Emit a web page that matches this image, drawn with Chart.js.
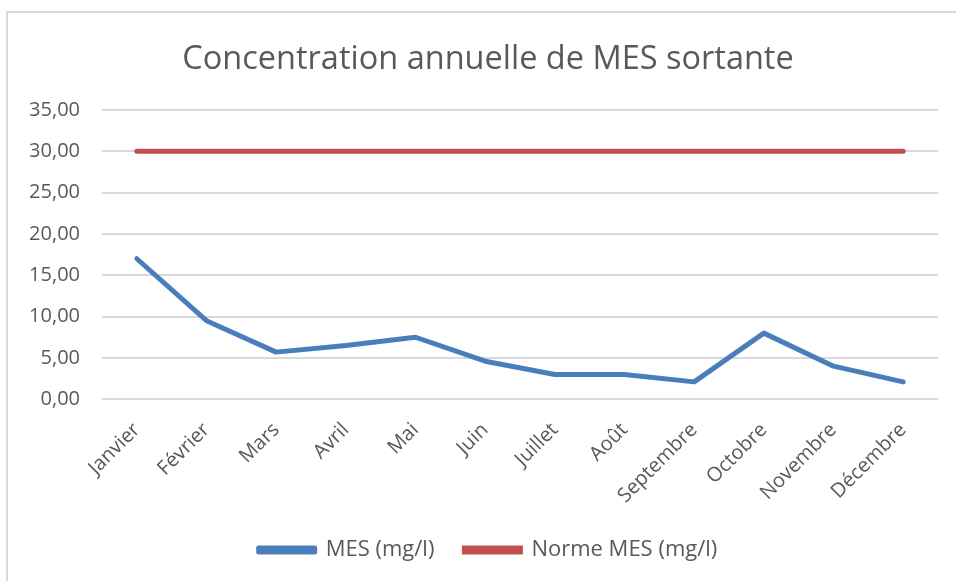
<!DOCTYPE html>
<html>
<head>
<meta charset="utf-8">
<script src="https://cdn.jsdelivr.net/npm/chart.js@4.4.1/dist/chart.umd.min.js"></script>
<style>
  html, body { margin: 0; padding: 0; background: #fff; }
  #wrap { position: relative; width: 956px; height: 581px; }
  #frame { position: absolute; left: 6px; top: 11px; right: 0; bottom: 0;
           border-left: 2px solid #d9d9d9; border-top: 2px solid #d9d9d9; }
  canvas { position: absolute; left: 0; top: 0; }
</style>
</head>
<body>
<div id="wrap">
  <div id="frame"></div>
  <canvas id="chart" width="956" height="581"></canvas>
</div>
<script>
const months = ["Janvier", "Février", "Mars", "Avril", "Mai", "Juin", "Juillet", "Août", "Septembre", "Octobre", "Novembre", "Décembre"];
const mesValues = [17.0, 9.5, 5.7, 6.5, 7.5, 4.6, 3.0, 3.0, 2.1, 8.0, 4.0, 2.1];
const normeValues = [30, 30, 30, 30, 30, 30, 30, 30, 30, 30, 30, 30];
const yTicks = [0, 5, 10, 15, 20, 25, 30, 35];

const textColor = "#595959";
const fontFamily = "'Open Sans', 'Noto Sans', sans-serif";

const ctx = document.getElementById("chart").getContext("2d");
new Chart(ctx, {
  type: "line",
  data: {
    labels: months,
    datasets: [{
      label: "MES (mg/l)",
      data: mesValues,
      borderColor: "#4a7ebb",
      backgroundColor: "#4a7ebb",
      borderWidth: 5,
      pointRadius: 0,
      borderCapStyle: "round",
      borderJoinStyle: "round",
      tension: 0
    }, {
      label: "Norme MES (mg/l)",
      data: normeValues,
      borderColor: "#c0504d",
      backgroundColor: "#c0504d",
      borderWidth: 5,
      pointRadius: 0,
      borderCapStyle: "round",
      tension: 0
    }]
  },
  options: {
    responsive: false,
    animation: false,
    // negative right padding + empty right axis: title/legend centred a bit right, like the original
    layout: { padding: { left: 0, right: -20, top: 0, bottom: 10 } },
    plugins: {
      title: {
        display: true,
        text: "Concentration annuelle de MES sortante",
        color: textColor,
        font: { family: fontFamily, size: 32.5, weight: "normal" },
        padding: { top: 40, bottom: 31 }
      },
      legend: {
        position: "bottom",
        labels: {
          color: textColor,
          font: { family: fontFamily, size: 22 },
          boxWidth: 56,
          boxHeight: 4,
          padding: 30
        }
      },
      tooltip: { enabled: false }
    },
    scales: {
      x: {
        offset: true,
        grid: { display: false },
        border: { display: false },
        afterFit: s => { s.height -= 10; },
        ticks: {
          color: textColor,
          font: { family: fontFamily, size: 20 },
          maxRotation: 45,
          minRotation: 45,
          padding: 11
        }
      },
      y: {
        min: 0,
        max: 35,
        afterFit: s => { s.width = 102; },
        afterBuildTicks: s => { s.ticks = yTicks.map(v => ({ value: v })); },
        grid: { color: "#d9d9d9", lineWidth: 2, drawTicks: false },
        border: { display: false },
        ticks: {
          color: textColor,
          font: { family: fontFamily, size: 20 },
          padding: 22,
          callback: v => v.toFixed(2).replace(".", ",")
        }
      },
      yRight: {
        position: "right",
        min: 0,
        max: 35,
        afterFit: s => { s.width = 38; },
        grid: { display: false },
        border: { display: false },
        ticks: { display: false }
      }
    }
  }
});
</script>
</body>
</html>
